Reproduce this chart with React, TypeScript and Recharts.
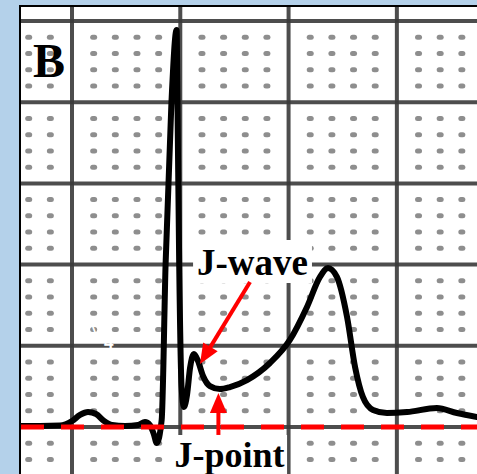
import React from "react";
import {
  ComposedChart,
  Line,
  Scatter,
  XAxis,
  YAxis,
  ReferenceLine,
  ReferenceArea,
  ReferenceDot,
} from "recharts";

// time in small boxes (x), amplitude in small boxes above baseline (y)
const traceT = [
  -2.36, -1.48, -0.55, 0, 0.37, 0.74, 1.11, 1.48, 1.85, 2.45, 3.05, 3.37, 3.6,
  3.79, 3.91, 4.14, 4.32, 4.59, 4.83, 4.87, 4.95, 5.06, 5.17, 5.31, 5.45, 5.63,
  5.82, 6.05, 6.37, 6.83, 7.29, 8.08, 9.14, 10.06, 10.85, 11.45, 11.82, 12.23,
  12.7, 13.07, 13.43, 13.9, 14.54, 15.47, 16.85, 17.77, 18.7,
];
const traceMv = [
  0.06, 0.06, 0.09, 0.37, 0.74, 0.92, 0.8, 0.37, 0.12, 0.06, 0.12, 0.31, 0.12,
  -0.49, -0.99, 0.43, 9.98, 19.95, 24.45, 19.95, 9.98, 2.46, 1.23, 1.97, 3.63,
  4.5, 4.06, 3.14, 2.52, 2.34, 2.46, 2.89, 3.94, 5.36, 7.39, 9.24, 9.79, 9.24,
  6.77, 3.69, 1.85, 1.05, 0.86, 0.92, 1.17, 0.86, 0.62,
];

const majorX = [0, 5, 10, 15];
const majorY = [0, 5, 10, 15, 20, 25];
const minorX = [-2, -1, 1, 2, 3, 4, 6, 7, 8, 9, 11, 12, 13, 14, 16, 17, 18];
const minorY = [
  -2, -1, 1, 2, 3, 4, 6, 7, 8, 9, 11, 12, 13, 14, 16, 17, 18, 19, 21, 22, 23, 24,
];

const trace = traceT.map((t, i) => ({ t, v: traceMv[i] }));
const dots = minorX.flatMap((t) => minorY.map((v) => ({ t, v })));

const SERIF = "'Liberation Serif', 'Times New Roman', serif";
const RED = "#ff0000";

const DotMark = (props: any) => (
  <rect
    x={props.cx - 3.5}
    y={props.cy - 2.5}
    width={7}
    height={5}
    rx={2.5}
    fill="#8e8e8e"
  />
);

const Arrow = (props: any) => {
  const { x1, y1, x2, y2 } = props;
  const len = Math.hypot(x2 - x1, y2 - y1);
  const ux = (x2 - x1) / len;
  const uy = (y2 - y1) / len;
  const hl = 20;
  const hw = 8.5;
  const bx = x2 - ux * hl;
  const by = y2 - uy * hl;
  return (
    <g>
      <line x1={x1} y1={y1} x2={bx + ux * 2} y2={by + uy * 2} stroke={RED} strokeWidth={4} />
      <polygon
        points={`${x2},${y2} ${bx - uy * hw},${by + ux * hw} ${bx + uy * hw},${by - ux * hw}`}
        fill={RED}
      />
    </g>
  );
};

const bigB = ({ viewBox }: any) => (
  <text x={viewBox.x} y={viewBox.y} fontFamily={SERIF} fontWeight="bold" fontSize={48} fill="#000">
    B
  </text>
);

const v4 = ({ viewBox }: any) => (
  <text x={viewBox.x} y={viewBox.y} fontFamily="'Liberation Sans', Arial, sans-serif" fontSize={18} fill="#fff">
    V
    <tspan dy={8} fontSize={17} fontWeight="bold">
      4
    </tspan>
  </text>
);

export default function App() {
  return (
    <div
      style={{
        position: "fixed",
        left: 0,
        top: 0,
        width: 477,
        height: 474,
        background: "#b4d1ea",
        overflow: "hidden",
      }}
    >
      <div
        style={{
          position: "absolute",
          left: 19,
          top: 5,
          width: 458,
          height: 469,
          boxSizing: "border-box",
          borderTop: "2px solid #000",
          borderLeft: "2px solid #000",
          background: "#fff",
        }}
      />
      <div style={{ position: "absolute", left: 0, top: 0 }}>
        <ComposedChart
          width={477}
          height={474}
          margin={{ top: 7, left: 21, right: 0, bottom: 0 }}
        >
          <XAxis
            type="number"
            dataKey="t"
            domain={[-2.355, 18.7]}
            allowDataOverflow
            hide
          />
          <YAxis
            type="number"
            dataKey="v"
            domain={[-2.894, 25.86]}
            allowDataOverflow
            hide
          />
          {majorX.map((x) => (
            <ReferenceLine key={"mx" + x} x={x} stroke="#3a3a3a" strokeOpacity={0.9} strokeWidth={4} zIndex={10} />
          ))}
          {majorY.map((y) => (
            <ReferenceLine key={"my" + y} y={y} stroke="#3a3a3a" strokeOpacity={0.9} strokeWidth={4} zIndex={10} />
          ))}
          <Scatter data={dots} shape={DotMark} isAnimationActive={false} zIndex={20} />
          <ReferenceDot x={0.92} y={5.36} r={0} fill="none" stroke="none" label={v4} zIndex={25} />
          <Line
            data={trace}
            dataKey="v"
            type="monotone"
            stroke="#000"
            strokeWidth={6}
            strokeLinejoin="round"
            strokeLinecap="round"
            dot={false}
            activeDot={false}
            isAnimationActive={false}
            zIndex={30}
          />
          <ReferenceArea
            x1={5.59}
            x2={11.08}
            y1={8.87}
            y2={11.51}
            fill="#fff"
            fillOpacity={1}
            stroke="none"
            zIndex={40}
            label={{
              value: "J-wave",
              position: "center",
              fill: "#000",
              fontSize: 37,
              fontWeight: "bold",
              fontFamily: SERIF,
            }}
          />
          <ReferenceArea
            x1={4.62}
            x2={9.93}
            y1={-2.894}
            y2={-0.49}
            fill="#fff"
            fillOpacity={1}
            stroke="none"
            zIndex={40}
            label={{
              value: "J-point",
              position: "center",
              fill: "#000",
              fontSize: 36,
              fontWeight: "bold",
              fontFamily: SERIF,
            }}
          />
          <ReferenceLine y={0} stroke={RED} strokeWidth={5} strokeDasharray="23 17" zIndex={50} />
          <ReferenceLine
            segment={[
              { x: 8.22, y: 8.93 },
              { x: 5.91, y: 3.88 },
            ]}
            shape={Arrow}
            ifOverflow="visible"
            zIndex={60}
          />
          <ReferenceLine
            segment={[
              { x: 6.76, y: -0.49 },
              { x: 6.76, y: 2.09 },
            ]}
            shape={Arrow}
            ifOverflow="visible"
            zIndex={60}
          />
          <ReferenceDot x={-1.8} y={21.55} r={0} fill="none" stroke="none" label={bigB} zIndex={60} />
        </ComposedChart>
      </div>
    </div>
  );
}
